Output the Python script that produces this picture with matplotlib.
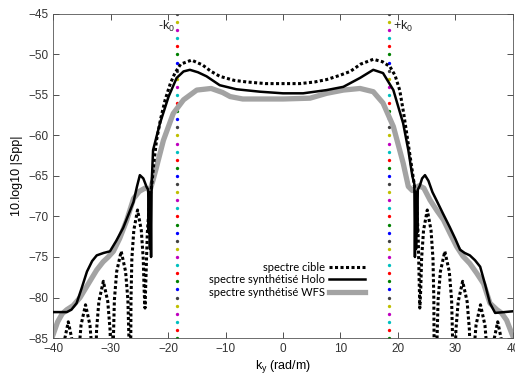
import numpy as np
import matplotlib
matplotlib.use('Agg')
import matplotlib.pyplot as plt

plt.rcParams['font.family'] = ['Liberation Sans', 'DejaVu Sans']

# spectre cible (dotted)
k_cible = [-40, -39.2, -38.8, -38.63, -38.45, -38.08, -37.35, -36.62, -36.25, -36.07, -35.9,
           -35.71, -35.53, -35.13, -34.35, -33.58, -33.18, -32.99, -32.8,
           -32.61, -32.43, -32.03, -31.25, -30.48, -30.08, -29.89, -29.7,
           -29.51, -29.33, -28.93, -28.15, -27.38, -26.98, -26.79, -26.6,
           -26.44, -26.29, -25.95, -25.3, -24.65, -24.31, -24.16, -24.0,
           -23.6, -23.2, -22.8, -22.4, -22.0, -21.3, -20.5, -19.6, -18.8, -17.8, -15.9,
           -14.0, -12.5, -11.0, -8.5, -6.3, -3, 0, 3, 5.5, 7.6, 9.8, 11.7, 13.5, 15.7,
           17.3, 18.6, 19.5, 20.3, 21.0, 21.7, 22.2, 22.8, 23.2, 23.5, 23.8,
           23.96, 24.11, 24.45, 25.1, 25.75, 26.09, 26.24, 26.4,
           26.6, 26.79, 26.98, 27.38, 28.15, 28.93, 29.33, 29.51, 29.7,
           29.89, 30.08, 30.48, 31.25, 32.03, 32.43, 32.61, 32.8,
           32.99, 33.18, 33.58, 34.35, 35.13, 35.53, 35.71, 35.9,
           36.07, 36.25, 36.62, 37.35, 38.08, 38.45, 38.63, 38.8, 39.2, 40]
db_cible = [-90, -95, -100, -94, -89, -85.5, -83, -85.5, -89, -94, -100,
            -91.9, -86.9, -83.4, -80.9, -83.4, -86.9, -91.9, -100,
            -89, -84, -80.5, -78, -80.5, -84, -89, -100,
            -85.3, -80.3, -76.8, -74.3, -76.8, -80.3, -85.3, -100,
            -80.2, -75.2, -71.7, -69.2, -71.7, -75.2, -79, -81.3,
            -72, -68, -65.9, -63, -60.6, -58, -55.6, -53.6, -52.3, -51.2, -50.7,
            -51.3, -52.1, -52.7, -53.2, -53.4, -53.6, -53.6, -53.6, -53.4, -53.1, -52.6, -52.1, -51.2, -50.6,
            -50.9, -51.5, -52.6, -54.4, -57.3, -60.6, -63, -65.9, -68, -72, -81.3,
            -79, -75.2, -71.7, -69.2, -71.7, -75.2, -80.2, -100,
            -100, -85.3, -80.3, -76.8, -74.3, -76.8, -80.3, -85.3, -100,
            -89, -84, -80.5, -78, -80.5, -84, -89, -100,
            -91.9, -86.9, -83.4, -80.9, -83.4, -86.9, -91.9, -100,
            -94, -89, -85.5, -83, -85.5, -89, -94, -100, -95, -90]

# spectre synthetise Holo (black)
k_holo = [-40, -37.6, -36.8, -35.9, -35.0, -34.1, -33.2, -32.4, -31.2, -30.1, -29.0, -27.8,
          -26.0, -25.4, -24.9, -24.3, -23.7, -23.45, -23.35, -23.25, -23.15, -23.05, -22.95,
          -22.85, -22.6, -21.4, -19.9, -18.5, -17.3, -16.2, -14.8, -13.3, -11.0, -8.1, -4.0,
          0, 3.5, 7.6, 10.5, 13.4, 15.7, 17.4, 19.2, 20.9, 21.8, 22.5, 22.85, 22.95, 23.05,
          23.15, 23.25, 23.35, 23.45, 23.8, 24.2, 24.7, 25.3, 26.0, 26.7, 27.8, 29.0, 30.0,
          30.8, 31.6, 32.5, 33.4, 34.3, 35.2, 36.0, 36.9, 38.5, 40]
db_holo = [-81.8, -81.8, -81.5, -80.7, -78.8, -76.8, -75.5, -74.8, -74.5, -74.3, -73.0, -71.4,
           -68.2, -66.3, -64.9, -65.3, -66.4, -66.7, -72, -67, -74, -67.5, -75,
           -66, -61.8, -58.5, -55.2, -52.9, -52.1, -51.9, -52.2, -52.7, -53.8, -54.3, -54.6,
           -54.8, -54.8, -54.4, -54.0, -52.9, -51.9, -52.3, -54.4, -58.5, -61.8, -65, -66, -75, -67.5,
           -74, -67, -72, -66.7, -66.2, -65.3, -64.9, -65.6, -67.0, -68.0, -69.6, -71.3, -72.8,
           -74.1, -74.5, -74.8, -75.4, -76.2, -78.5, -80.7, -81.9, -81.8, -81.7]

# spectre synthetise WFS (gray)
k_wfs = [-40, -39.2, -38.4, -37.6, -36.5, -35.3, -33.6, -32.4, -31.3, -30.4, -29.5, -28.4,
         -27.2, -26.0, -25.0, -24.0, -23.1, -22.6, -22.0, -20.8, -19.1, -17.3, -15.0, -12.5,
         -10.5, -9.2, -7.0, -4, 0, 4.7, 7.6, 10.5, 13.4, 15.7, 17.4, 19.2, 20.9, 21.8, 22.5,
         23.0, 23.7, 24.5, 25.6, 26.8, 27.9, 29.0, 30.2, 31.3, 32.5, 33.7, 34.9, 36.0, 37.2,
         38.0, 38.9, 40]
db_wfs = [-84.6, -83.0, -82.0, -81.5, -81.0, -80.0, -78.0, -76.6, -75.6, -75.0, -74.3, -72.7,
          -70.5, -67.8, -66.9, -66.5, -66.7, -65.5, -63.9, -60.6, -57.3, -55.6, -54.4, -54.2,
          -54.7, -55.2, -55.5, -55.5, -55.5, -55.4, -54.8, -54.4, -54.2, -54.6, -56.0, -58.9,
          -63.4, -66.3, -66.8, -66.5, -66.2, -66.5, -68.0, -69.3, -70.4, -72.0, -73.7, -74.9,
          -75.8, -77.0, -78.3, -80.7, -81.5, -81.9, -82.8, -84.8]

k0 = 18.4
dot_colors = ['#0000ff', '#008000', '#ff0000', '#00bfbf', '#bf00bf', '#bfbf00', '#404040']

fig = plt.figure(figsize=(5.15, 3.76), dpi=100)
ax = fig.add_axes([0.103, 0.101, 0.893, 0.862])

# vertical k0 markers, MATLAB colour order dots
ydots = np.arange(-85, -44.5, 1.0)
for kk in [-k0, k0]:
    for i, yv in enumerate(ydots):
        ax.plot(kk, yv, 'o', ms=2.4, mec='none', color=dot_colors[(i + 1) % 7], zorder=1)

ax.plot(k_cible, db_cible, color='black', lw=2.2, dashes=(1, 0.8), label='spectre cible', zorder=3)
ax.plot(k_holo, db_holo, color='black', lw=1.8, label=u'spectre synthétisé Holo', zorder=4)
ax.plot(k_wfs, db_wfs, color='#a3a3a3', lw=3.8, label=u'spectre synthétisé WFS', zorder=2)

ax.text(-k0 - 0.4, -46.6, r'-k$_\mathregular{0}$', ha='right', va='center', fontsize=9, color='#222222')
ax.text(k0 + 0.8, -46.6, r'+k$_\mathregular{0}$', ha='left', va='center', fontsize=9, color='#222222')

ax.set_xlim(-40, 40)
ax.set_ylim(-85, -45)
ax.set_xticks(np.arange(-40, 41, 10))
ax.set_yticks(np.arange(-85, -44, 5))
ax.tick_params(direction='in', top=True, right=True, labelsize=8.5, length=4, width=0.6, colors='#333333')
for s in ax.spines.values():
    s.set_linewidth(0.6)
    s.set_color('#555555')
ax.set_xlabel(r'k$_\mathregular{y}$ (rad/m)', fontsize=9, labelpad=2)
ax.set_ylabel('10.log10 |Spp|', fontsize=9, labelpad=4)

leg = ax.legend(loc='center right', bbox_to_anchor=(0.70, 0.18), frameon=False,
                markerfirst=False, handlelength=3.2, handletextpad=0.4, labelspacing=0.15,
                prop={'family': 'Lato', 'size': 8})
for t in leg.get_texts():
    t.set_ha('right')

fig.savefig('out.png', dpi=100)
